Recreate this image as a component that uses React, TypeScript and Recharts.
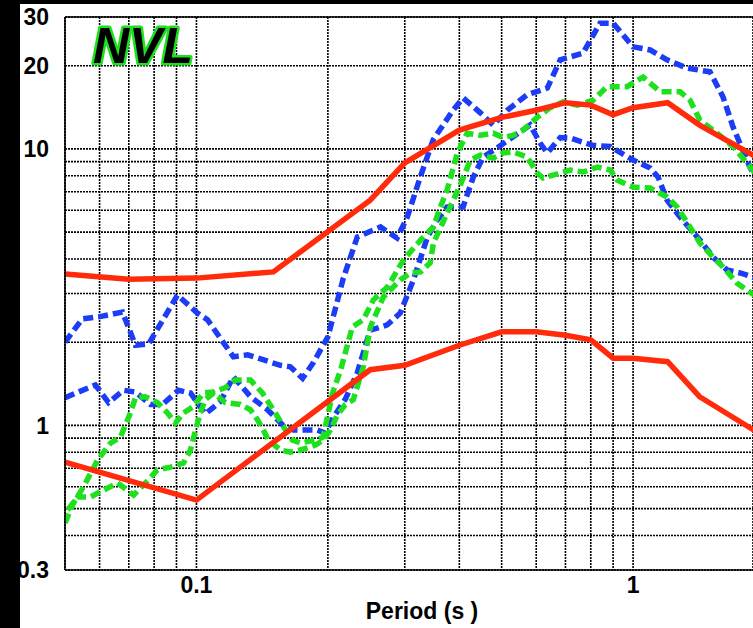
import { LineChart, Line, XAxis, YAxis, CartesianGrid, ReferenceLine } from 'recharts';

// periods (s) and spectral values
const redUpperT = [0.05, 0.07, 0.1, 0.15, 0.25, 0.3, 0.4, 0.5, 0.6, 0.7, 0.8, 0.9, 1.0, 1.2, 1.42, 2.0];
const redUpperV = [3.53, 3.38, 3.41, 3.59, 6.53, 8.9, 11.7, 13.0, 13.8, 14.7, 14.4, 13.3, 14.1, 14.7, 12.2, 9.0];

const redLowerT = [0.05, 0.1, 0.25, 0.3, 0.4, 0.5, 0.6, 0.7, 0.8, 0.9, 1.0, 1.2, 1.42, 2.0];
const redLowerV = [0.737, 0.537, 1.59, 1.65, 1.95, 2.18, 2.18, 2.12, 2.04, 1.75, 1.75, 1.7, 1.27, 0.91];

const blueUpperT = [
  0.05, 0.0548, 0.0597, 0.0677, 0.0725, 0.0777, 0.0905, 0.1005, 0.106, 0.1215, 0.131, 0.1557, 0.164, 0.175,
  0.185, 0.2, 0.217, 0.2335, 0.264, 0.288, 0.304, 0.3255, 0.3485, 0.387, 0.408, 0.447, 0.478, 0.515, 0.572,
  0.636, 0.681, 0.768, 0.84, 0.9, 1.0, 1.094, 1.196, 1.329, 1.5, 1.607, 1.694, 1.852, 1.9,
];
const blueUpperV = [
  2.0, 2.43, 2.47, 2.57, 1.95, 1.97, 2.96, 2.55, 2.41, 1.77, 1.8, 1.65, 1.63, 1.48,
  1.68, 2.09, 3.41, 4.8, 5.22, 4.76, 5.67, 7.91, 10.8, 13.8, 15.3, 13.5, 12.2, 13.8, 15.7,
  16.6, 21.0, 22.2, 28.5, 28.5, 23.4, 22.8, 21.0, 19.6, 19.0, 15.4, 12.0, 8.6, 8.0,
];

const blueLowerT = [
  0.05, 0.0587, 0.0629, 0.0681, 0.0725, 0.0785, 0.0836, 0.0909, 0.0969, 0.1048, 0.1135, 0.1215, 0.133, 0.1454,
  0.158, 0.1667, 0.189, 0.197, 0.206, 0.219, 0.2335, 0.25, 0.2735, 0.293, 0.314, 0.338, 0.356, 0.375, 0.408,
  0.4305, 0.4538, 0.4885, 0.5285, 0.581, 0.6125, 0.636, 0.681, 0.717, 0.81, 0.886, 1.0, 1.094, 1.141, 1.196,
  1.281, 1.423, 1.525, 1.641, 1.758, 1.9,
];
const blueLowerV = [
  1.26, 1.4, 1.21, 1.34, 1.32, 1.19, 1.19, 1.34, 1.31, 1.1, 1.22, 1.5, 1.27, 1.14,
  1.0, 0.962, 0.962, 0.939, 1.07, 1.24, 1.55, 2.21, 2.31, 2.55, 3.36, 4.8, 5.53, 6.17, 6.17,
  7.91, 9.35, 10.1, 11.0, 12.2, 10.5, 9.67, 11.0, 10.95, 10.3, 10.2, 9.12, 8.53, 7.91, 6.53,
  5.67, 4.68, 4.06, 3.65, 3.56, 3.42,
];

const greenUpperT = [
  0.05, 0.0523, 0.0551, 0.0594, 0.0636, 0.067, 0.0706, 0.0725, 0.0764, 0.0814, 0.0858, 0.0895, 0.0934, 0.0984,
  0.1037, 0.1094, 0.1165, 0.1228, 0.1329, 0.1416, 0.1516, 0.16, 0.166, 0.173, 0.187, 0.195, 0.205, 0.214,
  0.2275, 0.241, 0.254, 0.274, 0.298, 0.326, 0.349, 0.362, 0.375, 0.396, 0.417, 0.447, 0.478, 0.504, 0.531,
  0.56, 0.603, 0.646, 0.692, 0.745, 0.81, 0.872, 0.969, 1.054, 1.094, 1.153, 1.281, 1.35, 1.423, 1.557,
  1.694, 1.824, 1.9,
];
const greenUpperV = [
  0.444, 0.524, 0.599, 0.75, 0.864, 0.908, 1.11, 1.26, 1.27, 1.21, 1.11, 1.02, 1.11, 1.17,
  1.31, 1.32, 1.37, 1.46, 1.46, 1.31, 1.11, 0.962, 0.885, 0.864, 0.885, 0.908, 1.31, 1.59,
  2.27, 2.41, 2.84, 3.17, 3.97, 4.68, 5.22, 6.17, 7.1, 9.67, 11.4, 11.2, 11.4, 11.0, 11.2,
  11.7, 13.0, 14.1, 14.8, 14.4, 15.0, 16.8, 16.8, 18.2, 17.3, 16.1, 16.1, 15.0, 12.7, 11.4,
  10.2, 8.89, 8.2,
];

const greenLowerT = [
  0.0507, 0.0534, 0.0572, 0.0613, 0.066, 0.0718, 0.0764, 0.0814, 0.0872, 0.0934, 0.0969, 0.0995, 0.1021, 0.1048,
  0.1094, 0.1165, 0.1261, 0.1329, 0.1379, 0.1423, 0.1461, 0.1557, 0.1641, 0.173, 0.1795, 0.1873, 0.1953, 0.2026,
  0.2102, 0.2193, 0.2287, 0.2411, 0.2502, 0.2679, 0.293, 0.309, 0.326, 0.343, 0.349, 0.375, 0.402, 0.424, 0.447,
  0.478, 0.504, 0.531, 0.572, 0.603, 0.622, 0.681, 0.718, 0.769, 0.828, 0.886, 0.919, 1.0, 1.094, 1.196, 1.261,
  1.35, 1.423, 1.525, 1.607, 1.73, 1.9,
];
const greenLowerV = [
  0.494, 0.551, 0.551, 0.584, 0.619, 0.56, 0.619, 0.69, 0.707, 0.731, 0.815, 0.962, 1.11, 1.24,
  1.31, 1.21, 1.19, 1.14, 1.05, 0.962, 0.885, 0.815, 0.801, 0.815, 0.829, 0.849, 0.885, 0.962,
  1.09, 1.19, 1.24, 1.63, 2.27, 2.91, 3.36, 3.56, 3.59, 3.87, 4.57, 5.86, 7.4, 9.12, 9.5,
  9.27, 9.67, 9.75, 9.35, 8.18, 7.85, 8.18, 8.39, 8.25, 8.6, 8.39, 7.72, 7.28, 7.22, 6.7, 6.17,
  5.22, 4.57, 4.06, 3.74, 3.27, 2.95,
];

const xTicks = [0.06, 0.07, 0.08, 0.09, 0.1, 0.2, 0.3, 0.4, 0.5, 0.6, 0.7, 0.8, 0.9, 1];
const xLabels = [0.1, 1];
const yTicks = [0.3, 0.4, 0.5, 0.6, 0.7, 0.8, 0.9, 1, 2, 3, 4, 5, 6, 7, 8, 9, 10, 20, 30];
const yLabels = [0.3, 1, 10, 20, 30];

const zip = (t: number[], v: number[]) => t.map((p, i) => ({ t: p, v: v[i] }));

const RED = '#ff2b0a';
const BLUE = '#1c3cf5';
const GREEN = '#1fe01f';
const FONT = '"Liberation Sans", Arial, sans-serif';

export default function App() {
  const tickStyle = { fontSize: 23, fontWeight: 'bold' as const, fill: '#000', fontFamily: FONT };
  const dashed = { strokeWidth: 5.5, strokeDasharray: '10 5', dot: false, isAnimationActive: false };
  return (
    <div style={{ position: 'fixed', left: 0, top: 0, width: 753, height: 628, background: '#000' }}>
      <div style={{ position: 'absolute', left: 20, top: 4, width: 733, height: 624, background: '#fff' }} />
      <div style={{ position: 'absolute', left: 0, top: 0 }}>
        <LineChart width={753} height={628} margin={{ top: 17, right: 0, left: 20, bottom: 28 }}>
          <CartesianGrid stroke="#000" strokeWidth={1.6} strokeDasharray="2 1" />
          <XAxis
            dataKey="t"
            type="number"
            scale="log"
            domain={[0.05, 1.882]}
            allowDataOverflow
            ticks={xTicks}
            interval={0}
            tickFormatter={(v: number) => (xLabels.includes(v) ? String(v) : '')}
            tick={tickStyle}
            tickLine={false}
            tickSize={0}
            tickMargin={7}
            height={30}
            axisLine={{ stroke: '#000', strokeWidth: 1.6 }}
          />
          <YAxis
            type="number"
            scale="log"
            domain={[0.3, 30]}
            allowDataOverflow
            ticks={yTicks}
            interval={0}
            tickFormatter={(v: number) => (yLabels.includes(v) ? String(v) : '')}
            tick={tickStyle}
            tickLine={false}
            tickSize={0}
            tickMargin={16}
            width={45}
            axisLine={{ stroke: '#000', strokeWidth: 1.6 }}
          />
          <ReferenceLine y={30} stroke="#000" strokeWidth={1.6} />
          <Line data={zip(blueUpperT, blueUpperV)} dataKey="v" type="linear" stroke={BLUE} {...dashed} />
          <Line data={zip(blueLowerT, blueLowerV)} dataKey="v" type="linear" stroke={BLUE} {...dashed} />
          <Line data={zip(greenUpperT, greenUpperV)} dataKey="v" type="linear" stroke={GREEN} {...dashed} />
          <Line data={zip(greenLowerT, greenLowerV)} dataKey="v" type="linear" stroke={GREEN} {...dashed} />
          <Line data={zip(redUpperT, redUpperV)} dataKey="v" type="linear" stroke={RED} strokeWidth={5.5}
            dot={false} isAnimationActive={false} />
          <Line data={zip(redLowerT, redLowerV)} dataKey="v" type="linear" stroke={RED} strokeWidth={5.5}
            dot={false} isAnimationActive={false} />
        </LineChart>
      </div>
      <svg width={753} height={628} style={{ position: 'absolute', left: 0, top: 0, pointerEvents: 'none' }}>
        <text x={93} y={63} fontSize={50} fontStyle="italic" fontWeight="bold" fontFamily={FONT}
          fill="#000" stroke={GREEN} strokeWidth={5} paintOrder="stroke" strokeLinejoin="round">
          NVL
        </text>
        <text x={422} y={619} textAnchor="middle" fontSize={23} fontWeight="bold" fontFamily={FONT} fill="#000">
          Period (s )
        </text>
      </svg>
    </div>
  );
}
